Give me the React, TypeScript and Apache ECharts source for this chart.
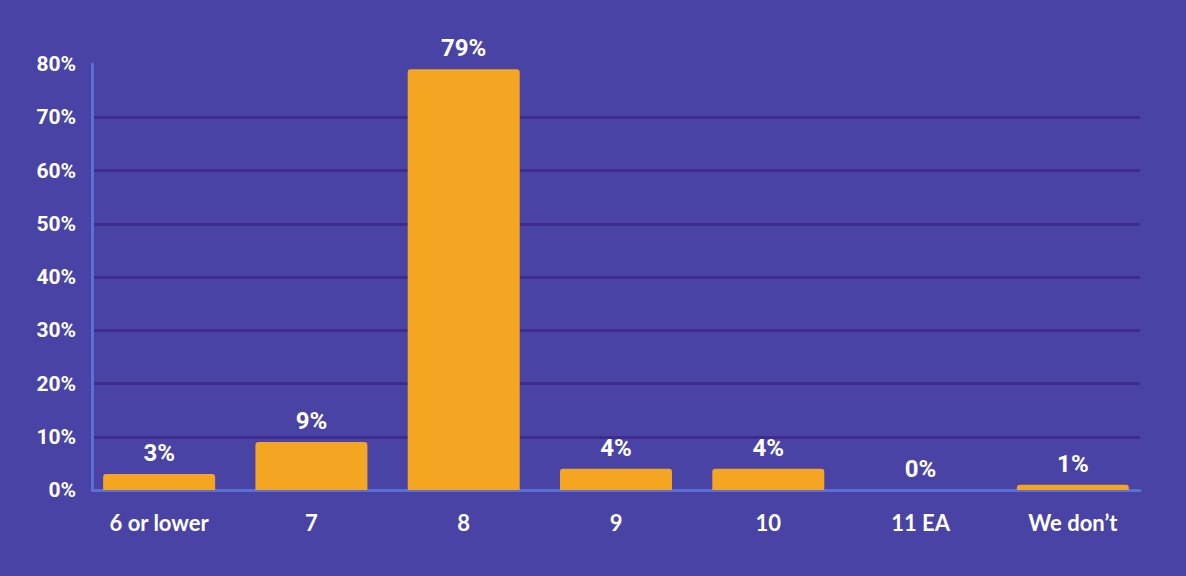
import React, { useEffect, useRef } from "react";
import * as echarts from "echarts";

const categories = ["6 or lower", "7", "8", "9", "10", "11 EA", "We don’t"];
const values = [3, 9, 79, 4, 4, 0, 1];
const yTicks = [0, 10, 20, 30, 40, 50, 60, 70, 80];

export default function App() {
  const ref = useRef<HTMLDivElement>(null);
  useEffect(() => {
    if (!ref.current) return;
    const chart = echarts.init(ref.current, undefined, { renderer: "svg" });
    const top = 64;
    const bottom = 86;
    chart.setOption({
      animation: false,
      backgroundColor: "#4943a6",
      grid: [
        { left: 92, right: 46, top, bottom },
        { left: 83, right: 37, top, bottom },
      ],
      xAxis: [
        {
          type: "category",
          gridIndex: 0,
          data: categories,
          axisLine: { show: true, lineStyle: { color: "#5b70d2", width: 3 } },
          axisTick: { show: false },
          axisLabel: { show: false },
        },
        {
          type: "category",
          gridIndex: 1,
          data: categories,
          axisLine: { show: false },
          axisTick: { show: false },
          axisLabel: {
            color: "#ffffff",
            fontFamily: "Lato",
            fontWeight: "bold",
            fontSize: 22,
            margin: 21,
          },
        },
      ],
      yAxis: [
        {
          type: "value",
          gridIndex: 0,
          min: yTicks[0],
          max: yTicks[yTicks.length - 1],
          interval: 10,
          axisLine: { show: true, lineStyle: { color: "#5b70d2", width: 3 } },
          axisTick: { show: false },
          splitLine: {
            show: true,
            showMaxLine: false,
            lineStyle: { color: "#3f2b8c", width: 3 },
          },
          axisLabel: {
            color: "#ffffff",
            fontFamily: "Roboto",
            fontWeight: "bold",
            fontSize: 21,
            margin: 16,
            formatter: "{value}%",
          },
        },
        {
          type: "value",
          gridIndex: 1,
          min: yTicks[0],
          max: yTicks[yTicks.length - 1],
          interval: 10,
          axisLine: { show: false },
          axisTick: { show: false },
          splitLine: { show: false },
          axisLabel: { show: false },
        },
      ],
      series: [
        {
          type: "bar",
          xAxisIndex: 1,
          yAxisIndex: 1,
          data: values,
          barWidth: 112,
          itemStyle: { color: "#f4a522", borderRadius: [3, 3, 0, 0] },
          label: {
            show: true,
            position: "top",
            distance: 9,
            color: "#ffffff",
            fontFamily: "Roboto",
            fontWeight: "bold",
            fontSize: 24,
            formatter: "{c}%",
          },
          z: 3,
        },
      ],
    });
    return () => chart.dispose();
  }, []);
  return <div ref={ref} style={{ width: 1186, height: 576, position: "fixed", left: 0, top: 0 }} />;
}
